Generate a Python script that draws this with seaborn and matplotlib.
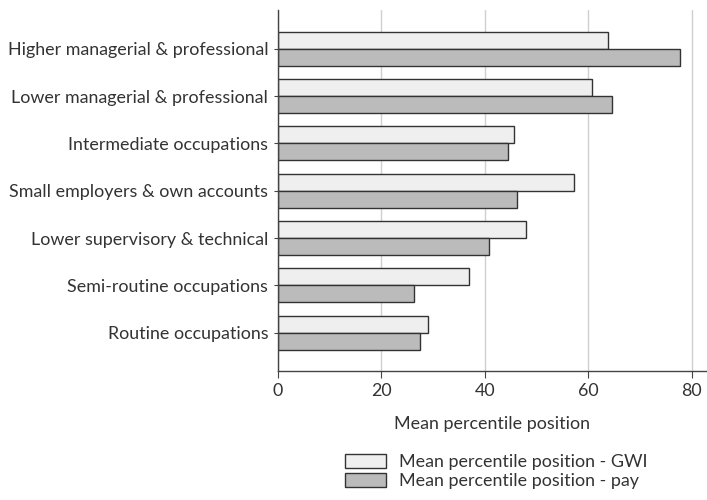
import pandas as pd
import matplotlib.pyplot as plt
import seaborn as sns

# --- Data ---
categories = [
    "Higher managerial & professional",
    "Lower managerial & professional",
    "Intermediate occupations",
    "Small employers & own accounts",
    "Lower supervisory & technical",
    "Semi-routine occupations",
    "Routine occupations",
]
gwi = [63.8, 60.8, 45.7, 57.3, 47.9, 36.9, 29.1]
pay = [77.7, 64.5, 44.4, 46.2, 40.8, 26.3, 27.4]
series_names = ["Mean percentile position - GWI", "Mean percentile position - pay"]

df = pd.DataFrame({
    "category": categories * 2,
    "value": gwi + pay,
    "series": [series_names[0]] * len(categories) + [series_names[1]] * len(categories),
})

# --- Style ---
sns.set_style("white")
plt.rcParams["font.family"] = ["Lato", "DejaVu Sans"]
text_color = "#333333"
fs = 12.9

fig = plt.figure(figsize=(7.07, 5.0), dpi=100)
ax = fig.add_axes([0.393, 0.258, 0.606, 0.722])

sns.barplot(
    data=df, y="category", x="value", hue="series", orient="h",
    palette=["#efefef", "#bbbbbb"], edgecolor="#333333", linewidth=1.0,
    width=0.72, ax=ax, legend=True,
)

ax.set_xlim(0, 82.8)
ax.set_ylim(6.81, -0.82)
ax.set_xticks([0, 20, 40, 60, 80])
ax.xaxis.grid(True, color="#d0d0d0", linewidth=1.0)
ax.set_axisbelow(True)
ax.set_ylabel("")
ax.set_xlabel("Mean percentile position", fontsize=fs, color=text_color, labelpad=12)

for side in ["top", "right"]:
    ax.spines[side].set_visible(False)
for side in ["left", "bottom"]:
    ax.spines[side].set_color("#444444")
    ax.spines[side].set_linewidth(1.0)

ax.tick_params(axis="x", bottom=True, length=5, color="#444444", labelsize=fs,
               labelcolor=text_color, pad=4)
ax.tick_params(axis="y", left=True, length=3, color="#444444", labelsize=fs,
               labelcolor=text_color, pad=4)

# legend below the plot
handles, labels = ax.get_legend_handles_labels()
ax.get_legend().remove()
leg = fig.legend(
    handles, labels, loc="center left", bbox_to_anchor=(345 / 707, 0.057),
    frameon=False, fontsize=fs, handlelength=2.3, handleheight=0.8,
    handletextpad=0.7, labelspacing=0.15, borderpad=0, borderaxespad=0,
)
for t in leg.get_texts():
    t.set_color(text_color)

fig.savefig("out.png", dpi=100)
